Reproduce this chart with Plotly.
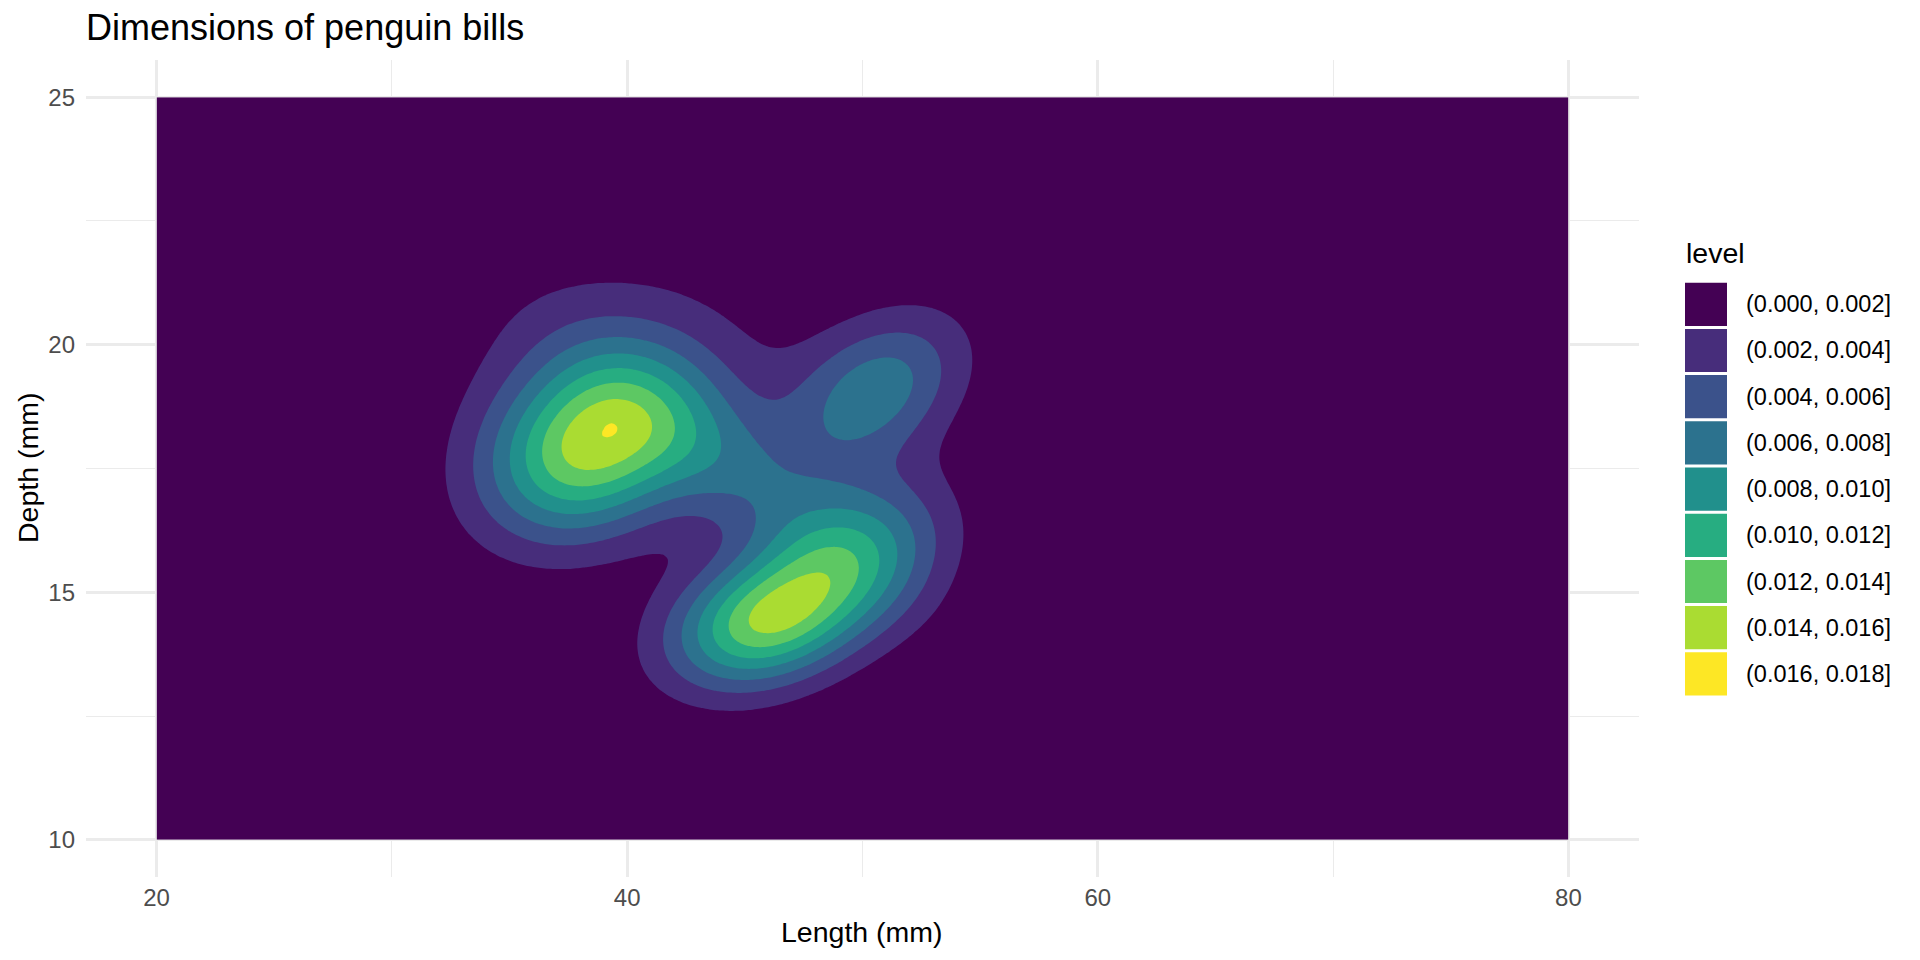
import numpy as np
import plotly.graph_objects as go

# ---- data -----------------------------------------------------------------
# The filled density surface, described as a few bivariate normal bumps whose
# centres, spreads, tilts and weights were matched to the contour bands.
comp_cx = [40.496, 45.827, 50.542, 44.362, 49.880, 38.267, 39.370]
comp_cy = [19.383, 14.419, 19.061, 17.496, 15.826, 17.881, 18.340]
comp_sx = [4.601, 2.758, 2.576, 4.159, 2.655, 3.001, 0.250]
comp_sy = [1.640, 0.928, 1.079, 1.570, 1.074, 1.225, 0.120]
comp_rho = [-0.146, 0.273, 0.370, -0.750, 0.252, 0.225, 0.000]
comp_w = [0.139224, 0.205285, 0.115143, 0.117000, 0.126393, 0.296869, 0.000050]

x_limits = [20, 80]
y_limits = [10, 25]
level_breaks = [0.000, 0.002, 0.004, 0.006, 0.008, 0.010, 0.012, 0.014, 0.016, 0.018]
level_labels = ["(0.000, 0.002]", "(0.002, 0.004]", "(0.004, 0.006]", "(0.006, 0.008]",
                "(0.008, 0.010]", "(0.010, 0.012]", "(0.012, 0.014]", "(0.014, 0.016]",
                "(0.016, 0.018]"]
level_colors = ["#440154", "#472D7B", "#3B528B", "#2C728E", "#21908C",
                "#27AD81", "#5DC863", "#AADC32", "#FDE725"]
x_ticks = [20, 40, 60, 80]
x_minor = [30, 50, 70]
y_ticks = [10, 15, 20, 25]
y_minor = [12.5, 17.5, 22.5]

# ---- density grid -----------------------------------------------------------
gx = np.linspace(x_limits[0], x_limits[1], 361)
gy = np.linspace(y_limits[0], y_limits[1], 181)
X, Y = np.meshgrid(gx, gy)
Z = np.zeros_like(X)
for cx, cy, sx, sy, r, w in zip(comp_cx, comp_cy, comp_sx, comp_sy, comp_rho, comp_w):
    u = (X - cx) / sx
    v = (Y - cy) / sy
    q = (u * u - 2 * r * u * v + v * v) / (1 - r * r)
    Z += w * np.exp(-0.5 * q) / (2 * np.pi * sx * sy * np.sqrt(1 - r * r))

# stepped colour scale: one flat colour per band
n = len(level_colors)
cscale = []
for i, c in enumerate(level_colors):
    lo = 0 if i == 0 else (2 * i - 1) / (2 * (n - 1))
    hi = 1 if i == n - 1 else (2 * i + 1) / (2 * (n - 1))
    cscale += [[lo, c], [hi, c]]

step = level_breaks[1] - level_breaks[0]
fig = go.Figure(go.Contour(
    x=gx, y=gy, z=Z,
    colorscale=cscale,
    contours=dict(start=level_breaks[1], end=level_breaks[-2], size=step,
                  coloring="fill", showlines=False),
    line=dict(width=0),
    showscale=False,
    hoverinfo="skip",
))

# ---- layout -----------------------------------------------------------------
W, H = 1920, 960
L, R, T, Bm = 86, 281, 60, 83
PW, PH = W - L - R, H - T - Bm
FONT = "Liberation Sans, Arial, sans-serif"


def px_x(px):
    return (px - L) / PW


def px_y(py):
    return (H - Bm - py) / PH


axis_common = dict(showline=False, zeroline=False, ticks="",
                   gridcolor="#EBEBEB", gridwidth=2.7,
                   tickfont=dict(family=FONT, size=24, color="#4D4D4D"))

fig.update_layout(
    width=W, height=H,
    margin=dict(l=L, r=R, t=T, b=Bm),
    paper_bgcolor="white", plot_bgcolor="white",
    showlegend=False,
    title=dict(text="Dimensions of penguin bills", x=86 / W, xanchor="left",
               y=1 - 27 / H, yanchor="middle",
               font=dict(family=FONT, size=36, color="black")),
    xaxis=dict(range=[17, 83], tickvals=x_ticks, ticklabelstandoff=4,
               minor=dict(tickvals=x_minor, showgrid=True, gridcolor="#EBEBEB", gridwidth=1.3),
               **axis_common),
    yaxis=dict(range=[9.25, 25.75], tickvals=y_ticks, ticklabelstandoff=10,
               minor=dict(tickvals=y_minor, showgrid=True, gridcolor="#EBEBEB", gridwidth=1.3),
               **axis_common),
)

annotations = [
    dict(text="Length (mm)", x=px_x(862), y=px_y(932), xref="paper", yref="paper",
         xanchor="center", yanchor="middle", showarrow=False,
         font=dict(family=FONT, size=28.5, color="black")),
    dict(text="Depth (mm)", x=px_x(28), y=px_y(468), xref="paper", yref="paper",
         xanchor="center", yanchor="middle", showarrow=False, textangle=-90,
         font=dict(family=FONT, size=28.5, color="black")),
    dict(text="level", x=px_x(1684), y=px_y(253), xref="paper", yref="paper",
         xanchor="left", yanchor="middle", showarrow=False,
         font=dict(family=FONT, size=28.5, color="black")),
]
shapes = []
key_top0, key_pitch, key_h = 282.7, 46.2, 43.2
for i, (lab, col) in enumerate(zip(level_labels, level_colors)):
    top = key_top0 + i * key_pitch
    shapes.append(dict(type="rect", xref="paper", yref="paper",
                       x0=px_x(1685), x1=px_x(1727), y0=px_y(top + key_h), y1=px_y(top),
                       fillcolor=col, line=dict(width=0)))
    annotations.append(dict(text=lab, x=px_x(1744), y=px_y(top + key_h / 2),
                            xref="paper", yref="paper", xanchor="left", yanchor="middle",
                            showarrow=False,
                            font=dict(family=FONT, size=23.5, color="black")))
fig.update_layout(annotations=annotations, shapes=shapes)

fig.write_html("out.html", config={"displayModeBar": False})
with open("out.html") as f:
    page = f.read()
with open("out.html", "w") as f:
    f.write(page.replace("<body>", '<body style="margin:0">', 1))
